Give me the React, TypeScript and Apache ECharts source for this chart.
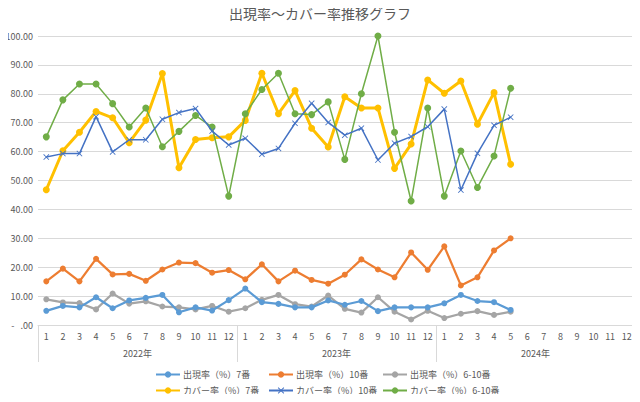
import React, { useEffect, useRef } from "react";
import * as echarts from "echarts";

const years = ["2022年", "2023年", "2024年"];
const monthLabels = ["1", "2", "3", "4", "5", "6", "7", "8", "9", "10", "11", "12"];
const categories: string[] = [];
years.forEach((y) => monthLabels.forEach((m) => categories.push(y + "-" + m)));

const appear7 = [4.9, 6.6, 6.1, 9.6, 5.8, 8.5, 9.4, 10.4, 4.4, 6.1, 5.0, 8.6, 12.6, 7.9, 7.3, 6.1, 6.1, 8.5, 7.0, 8.3, 4.8, 6.1, 6.1, 6.1, 7.5, 10.4, 8.3, 7.9, 5.2];
const appear10 = [15.1, 19.5, 15.1, 22.9, 17.5, 17.7, 15.3, 19.2, 21.6, 21.4, 18.1, 19.0, 15.8, 21.0, 15.1, 18.8, 15.6, 14.3, 17.4, 22.7, 19.2, 16.5, 25.1, 19.1, 27.2, 13.7, 16.5, 25.8, 30.0];
const appear610 = [8.9, 7.8, 7.6, 5.4, 10.9, 7.4, 8.2, 6.4, 6.1, 5.4, 6.6, 4.6, 5.8, 8.7, 10.4, 7.2, 6.4, 10.2, 5.6, 4.3, 9.6, 4.6, 1.9, 4.9, 2.4, 3.9, 4.8, 3.5, 4.6];
const cover7 = [46.8, 60.3, 66.7, 73.9, 71.7, 63.1, 70.9, 87.0, 54.4, 64.2, 64.8, 65.1, 70.8, 87.1, 73.1, 81.1, 68.1, 61.6, 79.0, 75.1, 75.1, 54.2, 62.6, 84.8, 80.2, 84.4, 69.5, 80.4, 55.6];
const cover10 = [58.1, 59.3, 59.3, 72.1, 59.9, 64.1, 64.1, 71.2, 73.5, 74.9, 67.1, 62.3, 64.6, 59.1, 61.1, 69.8, 76.7, 70.1, 65.7, 68.1, 57.1, 62.9, 65.2, 68.6, 74.7, 46.7, 59.4, 69.1, 71.9];
const cover610 = [65.1, 77.9, 83.4, 83.4, 76.6, 68.5, 75.1, 61.7, 67.0, 72.5, 68.5, 44.6, 73.1, 81.5, 87.1, 73.1, 72.8, 77.2, 57.3, 80.0, 100.0, 66.7, 42.9, 75.1, 44.6, 60.2, 47.6, 58.5, 81.9];

const names = [
  "出現率（%）7番",
  "出現率（%）10番",
  "出現率（%）6-10番",
  "カバー率（%）7番",
  "カバー率（%）10番",
  "カバー率（%）6-10番",
];

const pad = (arr: number[]) => categories.map((_, i) => (i < arr.length ? arr[i] : null));

const xSymbol = "path://M0,1L1,0L5,4L9,0L10,1L6,5L10,9L9,10L5,6L1,10L0,9L4,5Z";

export default function App() {
  const ref = useRef<HTMLDivElement>(null);
  useEffect(() => {
    if (!ref.current) return;
    const chart = echarts.init(ref.current, undefined, { renderer: "svg" });
    const font = "'Noto Sans CJK JP', 'Noto Sans', sans-serif";
    const mk = (name: string, data: number[], color: string, width: number, symbol: string, size: number, z: number) => ({
      name,
      type: "line",
      data: pad(data),
      xAxisIndex: 0,
      symbol,
      symbolSize: size,
      showSymbol: true,
      connectNulls: false,
      z,
      lineStyle: { color, width },
      itemStyle: { color, borderColor: color, borderWidth: 0 },
    });
    const legendCommon = {
      orient: "vertical",
      top: 370,
      height: 32,
      padding: 0,
      itemWidth: 24,
      itemHeight: 8,
      itemGap: 7,
      textStyle: { fontSize: 9, color: "#595959", fontFamily: font, padding: [0, 0, 0, -2] },
    };
    chart.setOption({
      animation: false,
      backgroundColor: "#ffffff",
      textStyle: { fontFamily: font },
      title: {
        text: "出現率〜カバー率推移グラフ",
        left: "center",
        top: 1,
        textStyle: { fontSize: 14, fontWeight: "normal", color: "#595959", fontFamily: font },
      },
      grid: { left: 38, right: 5, top: 36, bottom: 77, containLabel: false },
      xAxis: [
        {
          type: "category",
          data: categories,
          boundaryGap: true,
          axisLine: { show: true, lineStyle: { color: "#d9d9d9", width: 1 } },
          axisTick: { show: false },
          axisLabel: {
            interval: 0,
            margin: 7,
            fontSize: 9,
            color: "#595959",
            fontFamily: font,
            formatter: (v: string) => v.split("-")[1],
          },
        },
        {
          type: "category",
          data: years,
          position: "bottom",
          boundaryGap: true,
          axisLine: { show: false },
          axisTick: { show: true, interval: 0, length: 37, lineStyle: { color: "#d9d9d9", width: 1 } },
          axisLabel: { interval: 0, margin: 24, fontSize: 9, color: "#595959", fontFamily: font },
          splitLine: { show: false },
        },
      ],
      yAxis: {
        type: "value",
        min: 0,
        max: 100,
        interval: 10,
        axisLine: { show: false },
        axisTick: { show: false },
        splitLine: { lineStyle: { color: "#d9d9d9", width: 1 } },
        axisLabel: {
          margin: 5,
          fontSize: 9,
          color: "#595959",
          fontFamily: font,
          formatter: (v: number) => (v === 0 ? "-   .00" : v.toFixed(2)),
        },
      },
      legend: [
        { ...legendCommon, left: 155, data: [names[0], names[3]] },
        { ...legendCommon, left: 268, data: [names[1], names[4]] },
        { ...legendCommon, left: 382, data: [names[2], names[5]] },
      ],
      series: [
        mk(names[0], appear7, "#5B9BD5", 2.25, "circle", 6, 6),
        mk(names[1], appear10, "#ED7D31", 2.25, "circle", 6, 5),
        mk(names[2], appear610, "#A5A5A5", 2.25, "circle", 6, 4),
        mk(names[3], cover7, "#FFC000", 3, "circle", 7, 1),
        mk(names[4], cover10, "#4472C4", 1.5, xSymbol, 6, 3),
        mk(names[5], cover610, "#70AD47", 1.5, "circle", 7, 2),
      ],
    });
    return () => chart.dispose();
  }, []);
  return <div ref={ref} style={{ width: 640, height: 402, margin: -8 }} />;
}
